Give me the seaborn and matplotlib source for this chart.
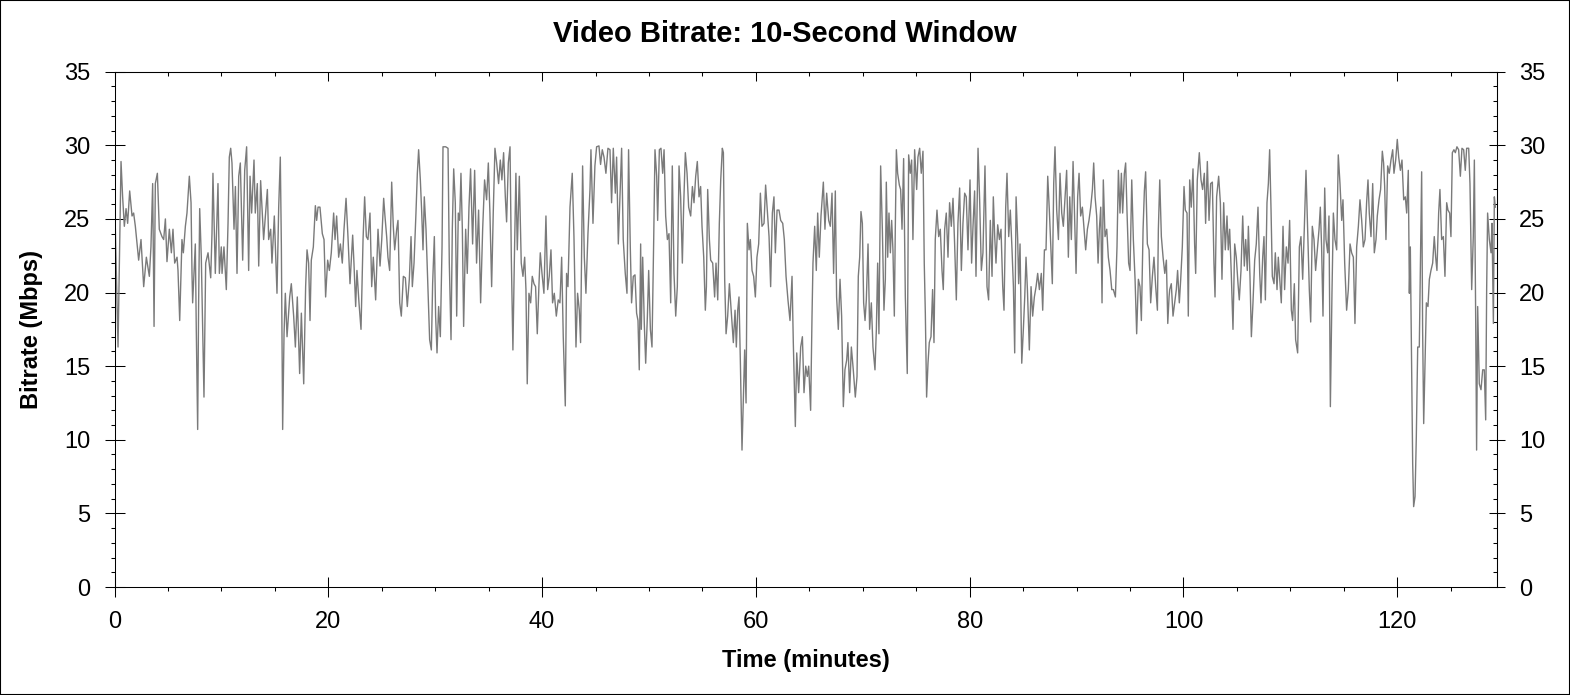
import numpy as np
import pandas as pd
import matplotlib
matplotlib.use("Agg")
import matplotlib.pyplot as plt
import seaborn as sns
from matplotlib.ticker import MultipleLocator, NullFormatter
from matplotlib.patches import Rectangle

# ---------------- data (minutes, Mbps) ----------------
t_seg1 = [0.08, 0.33, 0.61, 0.76, 0.92, 1.08, 1.23, 1.42, 1.64, 1.79, 1.95, 2.26, 2.48, 2.73, 2.98,
          3.26, 3.41, 3.57, 3.70, 3.82, 4.01, 4.19, 4.44, 4.60, 4.76, 4.91, 5.13, 5.32, 5.47, 5.63,
          5.85, 5.94, 6.10, 6.31, 6.44, 6.63, 6.78, 7.00, 7.16, 7.25, 7.31, 7.56, 7.65, 7.78, 7.87,
          7.97, 8.12, 8.37, 8.53, 8.75, 9.00, 9.12, 9.21, 9.43, 9.68, 9.81, 9.99, 10.06, 10.24, 10.46,
          10.62, 10.74, 10.87, 10.99, 11.18, 11.31, 11.46, 11.62, 11.77, 11.99, 12.18, 12.36, 12.55,
          12.68, 12.83, 13.05, 13.17, 13.36, 13.49, 13.67, 13.95, 14.30, 14.42, 14.61, 14.73, 14.95,
          15.20, 15.36, 15.51, 15.61, 15.73, 15.86, 15.98, 16.14]
v_seg1 = [24.3, 16.3, 28.9, 26.5, 24.5, 25.7, 24.7, 26.9, 25.2, 25.4, 24.5, 22.2, 23.6, 20.4, 22.4,
          21.1, 23.1, 27.4, 17.7, 27.4, 28.1, 24.3, 23.8, 23.6, 25.0, 22.1, 24.3, 22.7, 24.3, 22.0,
          22.4, 21.5, 18.1, 23.6, 22.7, 24.5, 25.4, 27.9, 26.1, 21.3, 19.3, 23.3, 17.5, 10.7, 19.3,
          25.7, 22.4, 12.9, 22.0, 22.7, 21.0, 24.0, 28.1, 21.3, 27.4, 21.3, 23.1, 21.3, 23.1, 20.2,
          24.7, 29.2, 29.8, 28.8, 24.3, 27.2, 21.3, 27.9, 28.8, 22.2, 28.3, 29.9, 21.5,
          27.9, 25.4, 29.0, 25.4, 27.4, 21.8, 27.6, 23.6, 27.0, 23.6, 24.3, 22.0, 25.2,
          19.95, 25.8, 29.2, 23.1, 10.7, 17.2, 19.95, 17.0]

t_seg2 = [16.39, 16.54, 16.76, 16.92, 17.10, 17.32, 17.48, 17.70, 17.88, 18.01, 18.16, 18.29, 18.41,
          18.60, 18.79, 18.91, 19.04, 19.22, 19.44, 19.60, 19.75, 19.94, 20.10, 20.28, 20.50, 20.63,
          20.78, 20.97, 21.13, 21.31, 21.47, 21.66, 21.84, 22.03, 22.28, 22.40, 22.56, 22.68, 22.87,
          23.06, 23.25, 23.40, 23.56, 23.71, 23.90, 24.06, 24.21, 24.31, 24.43, 24.65, 24.84, 25.00,
          25.18, 25.30, 25.46, 25.58, 25.74, 25.93, 26.08, 26.21, 26.40, 26.52, 26.68, 26.83, 27.02,
          27.21, 27.39, 27.58, 27.74, 27.86, 28.02, 28.20, 28.33, 28.45, 28.61, 28.73, 28.86, 28.98,
          29.14, 29.33, 29.48, 29.64, 29.76, 29.92, 30.04, 30.17, 30.32, 30.48, 30.64, 30.73, 30.98,
          31.20, 31.32, 31.48, 31.60, 31.73, 31.88, 32.01, 32.16, 32.29, 32.41, 32.54, 32.66]
v_seg2 = [19.7, 20.6, 18.4, 16.3, 19.7, 14.5, 18.6, 13.8, 20.4, 22.9, 22.0, 18.1, 22.2,
          23.1, 25.9, 24.9, 25.8, 25.8, 24.0, 23.6, 19.7, 22.2, 21.5, 22.7, 25.4, 23.6,
          25.2, 22.4, 23.3, 22.0, 24.3, 26.4, 23.8, 20.6, 23.9, 22.0, 19.05, 21.5, 19.3,
          17.5, 23.6, 26.5, 23.8, 23.6, 25.4, 20.4, 22.4, 21.1, 19.5, 24.3, 21.8, 23.6,
          26.4, 25.2, 23.8, 22.4, 21.5, 27.5, 24.5, 22.9, 24.3, 24.9, 19.3, 18.4, 21.1,
          21.0, 19.05, 20.9, 23.8, 20.4, 22.0, 25.4, 28.1, 29.7, 27.65, 25.6, 22.9, 26.5,
          24.3, 20.2, 16.8, 16.1, 20.6, 23.8, 18.4, 15.9, 19.05, 17.0, 23.1, 29.9, 29.9,
          29.8, 22.0, 16.8, 24.3, 28.4, 26.1, 18.4, 25.4, 24.9, 28.1, 24.3, 17.7]

t_seg3 = [32.85, 33.00, 33.16, 33.31, 33.50, 33.69, 33.87, 34.06, 34.25, 34.44, 34.62, 34.81, 34.97,
          35.12, 35.28, 35.43, 35.59, 35.75, 35.93, 36.09, 36.24, 36.40, 36.56, 36.68, 36.84, 37.00,
          37.12, 37.27, 37.40, 37.55, 37.68, 37.87, 38.05, 38.21, 38.37, 38.49, 38.61, 38.77, 38.93,
          39.08, 39.24, 39.39, 39.55, 39.71, 39.83, 39.99, 40.17, 40.36, 40.52, 40.67, 40.83, 40.98,
          41.14, 41.33, 41.51, 41.67, 41.83, 41.98, 42.17, 42.29, 42.42, 42.61, 42.82, 42.98, 43.17,
          43.32, 43.48, 43.60, 43.79, 43.95, 44.10, 44.29, 44.48, 44.57, 44.76, 44.94, 45.10, 45.32,
          45.47, 45.63, 45.79, 45.97, 46.16, 46.35, 46.50, 46.66, 46.85, 46.97, 47.13, 47.28, 47.44,
          47.59, 47.78, 47.94, 48.09, 48.25, 48.37, 48.53, 48.69, 48.84, 48.97, 49.09, 49.22]
v_seg3 = [24.3, 21.3, 25.8, 28.4, 23.3, 28.3, 22.0, 25.6, 19.3, 24.3, 27.65, 26.3, 28.8,
          25.4, 20.4, 25.4, 29.8, 28.8, 27.4, 29.0, 27.65, 29.5, 26.5, 24.8, 28.8, 29.9,
          22.4, 16.1, 22.0, 28.1, 22.9, 27.9, 22.0, 21.1, 22.4, 20.2, 13.8, 19.95, 19.3,
          21.1, 20.6, 20.4, 17.2, 20.6, 22.7, 21.3, 19.95, 25.2, 20.2, 21.1, 22.9, 19.3,
          19.95, 18.4, 19.5, 19.3, 22.4, 17.0, 12.3, 21.3, 20.4, 25.8, 28.1, 23.8, 16.3,
          19.95, 18.8, 16.6, 28.6, 22.4, 19.95, 24.0, 27.0, 29.7, 24.7, 28.6, 29.9, 29.96,
          28.7, 29.7, 29.2, 28.1, 29.8, 29.7, 26.1, 29.8, 26.75, 29.2, 23.3, 26.5, 29.8,
          23.6, 21.3, 19.95, 29.7, 23.1, 19.3, 21.1, 21.2, 18.6, 18.1, 14.75, 23.3]

t_seg4 = [49.28, 49.41, 49.56, 49.69, 49.85, 49.97, 50.13, 50.28, 50.44, 50.56, 50.72, 50.81, 50.97,
          51.12, 51.28, 51.41, 51.56, 51.72, 51.87, 52.03, 52.18, 52.34, 52.50, 52.65, 52.81, 52.96,
          53.12, 53.24, 53.40, 53.56, 53.71, 53.90, 54.06, 54.21, 54.37, 54.52, 54.68, 54.83, 54.96,
          55.12, 55.27, 55.37, 55.49, 55.65, 55.77, 55.96, 56.14, 56.27, 56.43, 56.58, 56.71, 56.86,
          56.96, 57.08, 57.21, 57.36, 57.52, 57.64, 57.77, 57.89, 58.05, 58.17, 58.30, 58.42, 58.55,
          58.70, 58.83, 58.95, 59.08, 59.20, 59.36, 59.48, 59.64, 59.79, 59.95, 60.10, 60.26, 60.42,
          60.57, 60.76, 60.91, 61.07, 61.23, 61.38, 61.54, 61.69, 61.82, 61.98, 62.16, 62.32, 62.51,
          62.66, 62.82, 63.00, 63.19, 63.38, 63.50, 63.69, 63.82, 64.00, 64.19, 64.35, 64.50, 64.66,
          64.81, 64.94, 65.12, 65.25, 65.34, 65.50, 65.65, 65.78]
v_seg4 = [17.5, 22.4, 17.9, 15.2, 18.4, 21.5, 17.5, 16.3, 23.6, 29.7, 27.9, 24.9, 29.7,
          29.8, 28.1, 29.7, 25.2, 23.6, 24.0, 19.3, 28.6, 21.3, 18.4, 20.4, 28.6, 26.5,
          22.0, 25.8, 29.5, 28.1, 25.8, 25.2, 27.2, 26.1, 27.9, 28.9, 26.5, 27.2, 24.5,
          22.4, 18.8, 20.4, 27.0, 23.6, 22.2, 22.0, 19.7, 22.0, 19.5, 24.7, 27.65, 29.8,
          29.5, 20.9, 17.2, 18.4, 20.6, 19.3, 17.9, 16.6, 18.8, 16.3, 18.8, 19.7, 15.2,
          9.3, 12.9, 16.1, 12.5, 24.7, 22.9, 23.6, 21.5, 21.1, 19.7, 22.4, 23.3, 26.75,
          24.5, 24.7, 27.3, 25.6, 23.8, 20.4, 25.4, 26.5, 22.7, 25.6, 25.6, 24.9, 24.7,
          23.6, 21.1, 19.5, 18.1, 21.1, 16.6, 10.9, 15.9, 13.2, 16.3, 17.0, 13.2, 15.0,
          14.3, 15.0, 12.0, 18.4, 22.0, 24.5, 21.5, 25.4]

t_seg5 = [65.93, 66.09, 66.31, 66.46, 66.62, 66.81, 66.96, 67.12, 67.27, 67.43, 67.55, 67.71, 67.87,
          68.02, 68.18, 68.33, 68.49, 68.61, 68.77, 68.93, 69.11, 69.30, 69.46, 69.58, 69.71, 69.83,
          69.96, 70.08, 70.21, 70.33, 70.49, 70.64, 70.80, 70.95, 71.14, 71.27, 71.39, 71.51, 71.67,
          71.83, 71.98, 72.11, 72.20, 72.33, 72.45, 72.58, 72.70, 72.82, 72.95, 73.04, 73.14, 73.26,
          73.42, 73.54, 73.67, 73.82, 73.98, 74.16, 74.29, 74.44, 74.57, 74.69, 74.85, 75.04, 75.16,
          75.32, 75.47, 75.63, 75.75, 75.85, 75.97, 76.10, 76.22, 76.38, 76.53, 76.66, 76.78, 76.94,
          77.10, 77.25, 77.41, 77.53, 77.66, 77.81, 77.97, 78.12, 78.28, 78.44, 78.59, 78.75, 78.90,
          79.06, 79.22, 79.37, 79.53, 79.68, 79.84, 80.03, 80.18, 80.31, 80.46, 80.59, 80.78, 80.93,
          81.09, 81.24, 81.43, 81.62, 81.77, 81.93]
v_seg5 = [22.4, 25.2, 27.5, 24.3, 26.75, 24.9, 24.5, 26.75, 21.3, 26.9, 19.7, 17.5, 20.9,
          18.4, 12.25, 14.75, 15.4, 16.6, 13.2, 16.3, 14.75, 12.9, 14.3, 21.1, 22.4, 25.5,
          24.7, 19.3, 18.1, 19.5, 23.3, 17.5, 19.3, 16.3, 14.75, 17.5, 22.0, 17.2, 28.6,
          24.3, 18.8, 20.9, 27.5, 22.4, 25.4, 22.7, 24.9, 22.9, 18.4, 24.3, 29.7, 28.1,
          27.3, 27.0, 24.3, 29.1, 19.7, 14.5, 29.35, 28.1, 29.0, 23.6, 29.7, 27.0, 29.2,
          29.8, 28.1, 29.6, 22.0, 18.6, 12.9, 15.2, 16.6, 17.0, 20.2, 16.6, 23.6, 25.6,
          23.8, 24.3, 21.5, 20.2, 24.3, 25.4, 22.4, 26.1, 24.5, 26.4, 23.3, 19.5, 24.7,
          27.1, 21.5, 24.7, 26.75, 26.5, 22.9, 27.65, 22.0, 24.5, 26.9, 21.1, 29.8, 26.3,
          21.5, 22.7, 28.6, 20.4, 19.5, 24.9]

t_seg6 = [82.09, 82.21, 82.34, 82.46, 82.62, 82.78, 82.93, 83.09, 83.21, 83.37, 83.49, 83.65, 83.80,
          83.96, 84.09, 84.21, 84.34, 84.49, 84.58, 84.71, 84.87, 85.02, 85.15, 85.27, 85.40, 85.58,
          85.74, 85.89, 86.05, 86.21, 86.36, 86.52, 86.70, 86.83, 86.99, 87.14, 87.30, 87.45, 87.58,
          87.73, 87.86, 87.98, 88.14, 88.30, 88.45, 88.61, 88.76, 88.92, 89.07, 89.23, 89.36, 89.51,
          89.67, 89.79, 89.95, 90.10, 90.23, 90.38, 90.54, 90.70, 90.85, 91.01, 91.16, 91.32, 91.48,
          91.60, 91.73, 91.88, 92.01, 92.13, 92.26, 92.38, 92.50, 92.66, 92.82, 92.97, 93.13, 93.29,
          93.44, 93.63, 93.78, 93.91, 94.06, 94.19, 94.31, 94.47, 94.59, 94.72, 94.87, 95.00, 95.16,
          95.31, 95.47, 95.62, 95.78, 95.93, 96.06, 96.22, 96.34, 96.46, 96.62, 96.78, 96.93, 97.09,
          97.24, 97.40, 97.56, 97.65, 97.78, 97.93, 98.09, 98.25, 98.40, 98.53, 98.65]
v_seg6 = [21.1, 26.5, 23.8, 22.0, 24.6, 23.6, 24.3, 20.4, 18.8, 25.8, 28.1, 23.8, 25.6,
          22.9, 20.4, 15.9, 26.5, 23.6, 20.6, 23.3, 15.2, 17.5, 19.7, 22.4, 20.2, 16.1,
          20.4, 18.4, 19.7, 20.4, 21.3, 20.2, 21.3, 18.8, 22.9, 22.9, 27.9, 25.6, 23.3,
          20.6, 27.4, 29.9, 25.6, 23.6, 28.1, 25.4, 24.5, 26.5, 28.3, 22.4, 26.5, 23.6,
          28.9, 25.8, 21.3, 26.5, 28.1, 25.2, 25.8, 24.3, 22.9, 24.3, 24.9, 25.8, 27.0,
          28.8, 26.5, 25.2, 22.0, 24.3, 25.8, 19.3, 27.65, 23.8, 24.3, 22.4, 21.5, 20.2,
          20.2, 19.7, 23.1, 28.3, 25.4, 28.1, 25.4, 28.1, 28.8, 25.4, 22.0, 21.5, 27.65,
          23.6, 20.9, 17.2, 20.9, 20.4, 18.1, 24.3, 26.9, 28.2, 23.3, 22.9, 19.3, 21.1,
          22.4, 20.4, 18.8, 24.3, 27.65, 23.8, 22.4, 21.3, 22.2, 17.9, 19.7]

t_seg7 = [98.71, 98.86, 99.02, 99.17, 99.33, 99.45, 99.61, 99.74, 99.89, 100.05, 100.17, 100.33,
          100.45, 100.58, 100.73, 100.89, 101.04, 101.14, 101.29, 101.48, 101.64, 101.79, 101.95,
          102.07, 102.23, 102.39, 102.54, 102.70, 102.85, 102.95, 103.10, 103.29, 103.45, 103.60,
          103.76, 103.91, 104.07, 104.19, 104.32, 104.47, 104.63, 104.79, 104.94, 105.10, 105.22,
          105.38, 105.54, 105.69, 105.82, 105.97, 106.07, 106.22, 106.35, 106.50, 106.66, 106.81,
          106.97, 107.13, 107.25, 107.41, 107.53, 107.66, 107.81, 107.94, 108.06, 108.19, 108.31,
          108.47, 108.59, 108.75, 108.87, 109.03, 109.15, 109.31, 109.46, 109.62, 109.78, 109.93,
          110.09, 110.21, 110.37, 110.49, 110.68, 110.84, 110.99, 111.15, 111.30, 111.46, 111.62,
          111.77, 111.90, 112.05, 112.21, 112.36, 112.52, 112.68, 112.80, 112.92, 113.05, 113.21,
          113.33, 113.49, 113.61, 113.74, 113.89, 114.02, 114.17, 114.33, 114.48, 114.64, 114.80,
          114.92, 115.08]
v_seg7 = [20.2, 20.6, 18.4, 19.3, 20.2, 21.5, 19.3, 20.9, 23.1, 27.2, 25.6, 25.4,
          18.4, 27.65, 25.8, 28.4, 23.3, 21.3, 27.65, 29.5, 27.65, 27.0, 28.1,
          24.7, 28.9, 24.9, 27.4, 27.5, 22.0, 19.7, 26.5, 27.9, 26.1, 20.9,
          26.1, 22.9, 25.2, 22.9, 24.3, 21.3, 17.5, 23.3, 22.4, 20.6, 19.5,
          21.5, 25.2, 21.8, 23.6, 21.5, 24.5, 21.1, 17.0, 19.3, 22.2, 23.3,
          25.8, 21.3, 19.3, 22.4, 23.8, 19.5, 26.1, 27.4, 29.7, 25.6, 21.1,
          20.6, 22.7, 20.2, 22.4, 20.6, 19.3, 24.5, 20.2, 23.1, 22.0, 24.9,
          18.8, 18.1, 20.6, 16.8, 15.9, 23.1, 23.8, 20.9, 24.3, 28.3, 24.0,
          20.2, 18.0, 24.5, 23.6, 21.5, 22.9, 24.3, 25.8, 23.1, 18.4, 27.1,
          23.6, 22.7, 25.2, 12.25, 19.95, 25.4, 23.6, 22.9, 29.35, 27.4, 24.9,
          26.3, 22.0]

t_seg8 = [115.26, 115.42, 115.58, 115.73, 115.89, 116.04, 116.20, 116.36, 116.51, 116.67, 116.82,
          116.98, 117.13, 117.26, 117.38, 117.54, 117.70, 117.85, 118.01, 118.13, 118.29, 118.44,
          118.60, 118.72, 118.82, 118.94, 119.10, 119.25, 119.41, 119.57, 119.69, 119.85, 120.00,
          120.13, 120.29, 120.44, 120.60, 120.75, 120.88, 121.03, 121.13, 121.22, 121.34, 121.44,
          121.53, 121.66, 121.78, 121.91, 122.06, 122.19, 122.28, 122.37, 122.47, 122.59, 122.72,
          122.87, 123.00, 123.15, 123.31, 123.46, 123.59, 123.71, 123.87, 123.99, 124.15, 124.31,
          124.46, 124.62, 124.74, 124.90, 125.02, 125.15, 125.30, 125.43, 125.58, 125.74, 125.90,
          126.05, 126.21, 126.36, 126.49, 126.68, 126.80, 126.96, 127.11, 127.21, 127.33, 127.42,
          127.52, 127.67, 127.83, 127.99, 128.14, 128.27, 128.36, 128.45, 128.61, 128.77, 128.86,
          128.99, 129.08, 129.17]
v_seg8 = [18.8, 20.2, 23.3, 22.7, 22.4, 17.9, 23.1, 24.5, 26.3, 24.9, 23.1,
          23.6, 26.1, 27.65, 25.4, 23.8, 27.4, 22.7, 23.6, 25.2, 26.3, 27.0,
          29.6, 28.8, 27.2, 23.6, 28.6, 28.1, 29.0, 29.7, 28.1, 29.0, 30.4,
          29.2, 28.3, 29.0, 26.3, 26.5, 25.4, 28.3, 19.95, 23.1, 15.2, 8.4,
          5.46, 6.14, 10.2, 16.3, 16.3, 23.1, 28.2, 17.5, 11.1, 15.2, 19.3,
          19.05, 20.9, 21.5, 22.0, 23.8, 22.4, 21.5, 25.4, 27.0, 23.6, 23.8,
          21.1, 26.1, 25.6, 25.4, 23.8, 29.5, 29.7, 29.5, 29.9, 29.7, 27.9,
          29.8, 29.7, 28.3, 29.8, 29.8, 27.4, 20.2, 23.8, 29.0, 18.6, 9.3,
          19.05, 13.8, 13.4, 14.75, 14.75, 11.35, 20.2, 25.4, 23.6, 22.7, 24.7,
          17.9, 26.5, 25.8]

x_ticks = [0, 20, 40, 60, 80, 100, 120]
y_ticks = [0, 5, 10, 15, 20, 25, 30, 35]
title_text = "Video Bitrate: 10-Second Window"
x_label = "Time (minutes)"
y_label = "Bitrate (Mbps)"

time_min = np.concatenate([t_seg1, t_seg2, t_seg3, t_seg4, t_seg5, t_seg6, t_seg7, t_seg8])
bitrate = np.concatenate([v_seg1, v_seg2, v_seg3, v_seg4, v_seg5, v_seg6, v_seg7, v_seg8])
df = pd.DataFrame({"time": time_min, "bitrate": bitrate})

# ---------------- style ----------------
plt.rcParams["font.family"] = ["Liberation Sans", "DejaVu Sans"]
plt.rcParams["axes.edgecolor"] = "black"
plt.rcParams["xtick.color"] = "black"
plt.rcParams["ytick.color"] = "black"
plt.rcParams["text.color"] = "black"
plt.rcParams["axes.labelcolor"] = "black"

W, H = 1570, 695
fig = plt.figure(figsize=(W / 100, H / 100), dpi=100)
fig.patch.set_facecolor("white")
left_px, right_px, top_px, bottom_px = 114.5, 1496.7, 71.7, 587.0
ax = fig.add_axes([left_px / W, 1 - bottom_px / H, (right_px - left_px) / W, (bottom_px - top_px) / H])

sns.lineplot(data=df, x="time", y="bitrate", ax=ax, color="#7a7a7a",
             linewidth=1.0, estimator=None, sort=False)

ax.set_xlim(0, 129.3)
ax.set_ylim(0, 35)
ax.set_xticks(x_ticks)
ax.set_yticks(y_ticks)
ax.xaxis.set_minor_locator(MultipleLocator(5))
ax.yaxis.set_minor_locator(MultipleLocator(1))

for s in ax.spines.values():
    s.set_linewidth(0.75)
    s.set_color("black")

ax.tick_params(which="major", direction="inout", length=13.7, width=0.75,
               labelsize=17, pad=10.5, top=False, right=False)
ax.tick_params(which="minor", direction="out", length=3.2, width=0.75,
               top=False, right=False)

# top axis: ticks inward, no labels
secx = ax.secondary_xaxis("top")
secx.set_xticks(x_ticks)
secx.xaxis.set_minor_locator(MultipleLocator(5))
secx.xaxis.set_major_formatter(NullFormatter())
secx.tick_params(which="major", direction="in", length=6.5, width=0.75)
secx.tick_params(which="minor", direction="in", length=3.2, width=0.75)
secx.spines["top"].set_linewidth(0.75)

# right axis: major crossing, minor inward, labels
secy = ax.secondary_yaxis("right")
secy.set_yticks(y_ticks)
secy.yaxis.set_minor_locator(MultipleLocator(1))
secy.tick_params(which="major", direction="inout", length=12.2, width=0.75,
                 labelsize=17, pad=10)
secy.tick_params(which="minor", direction="in", length=2.9, width=0.75)
secy.spines["right"].set_linewidth(0.75)

ax.set_xlabel(x_label, fontsize=17, fontweight="bold")
ax.set_ylabel(y_label, fontsize=17, fontweight="bold")
ax.xaxis.label.set_va("center")
ax.xaxis.set_label_coords(0.5, (bottom_px - 660) / (bottom_px - top_px))
ax.yaxis.label.set_va("center")
ax.yaxis.set_label_coords((32 - left_px) / (right_px - left_px), 0.5)

fig.text(0.5, 1 - 33.5 / H, title_text, ha="center", va="center",
         fontsize=21, fontweight="bold")

fig.patches.append(Rectangle((0, 0), 1, 1, transform=fig.transFigure, fill=False,
                             edgecolor="black", linewidth=1.5))

fig.savefig("out.png", dpi=100)
